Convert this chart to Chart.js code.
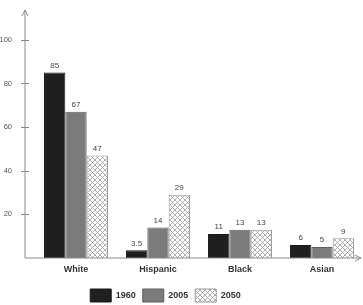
<!DOCTYPE html>
<html>
<head>
<meta charset="utf-8">
<script src="https://cdn.jsdelivr.net/npm/chart.js@4"></script>
<style>
  body { margin: 0; background: #fff; }
  #wrap { width: 363px; height: 305px; }
</style>
</head>
<body>
<div id="wrap"><canvas id="popChart"></canvas></div>
<script>
// values
var groups = ['White', 'Hispanic', 'Black', 'Asian'];
var years = ['1960', '2005', '2050'];
var share1960 = [85, 3.5, 11, 6];
var share2005 = [67, 14, 13, 5];
var share2050 = [47, 29, 13, 9];
var yTicks = [20, 40, 60, 80, 100];

var axisGray = '#8a8a8a';

// crosshatch fill for 2050
function makeHatch() {
    var c = document.createElement('canvas');
    c.width = 5; c.height = 5;
    var g = c.getContext('2d');
    g.fillStyle = '#fff';
    g.fillRect(0, 0, 5, 5);
    g.strokeStyle = '#9a9a9a';
    g.lineWidth = 0.8;
    g.beginPath();
    g.moveTo(0, 0); g.lineTo(5, 5);
    g.moveTo(5, 0); g.lineTo(0, 5);
    g.stroke();
    return g.createPattern(c, 'repeat');
}
var hatch = makeHatch();

// axis lines with open arrow heads, drawn at the value scale's zero
var arrowAxes = {
    id: 'arrowAxes',
    afterDatasetsDraw: function(chart) {
        var ctx = chart.ctx;
        var y = chart.scales.y;
        var y0 = y.getPixelForValue(0);
        var ax = chart.chartArea.left - 10;
        ctx.save();
        ctx.strokeStyle = axisGray;
        ctx.lineWidth = 1;
        ctx.beginPath();
        ctx.moveTo(ax, y0);
        ctx.lineTo(ax, 10);
        ctx.moveTo(ax - 3, 16); ctx.lineTo(ax, 10); ctx.lineTo(ax + 3, 16);
        ctx.moveTo(ax, y0);
        ctx.lineTo(360, y0);
        ctx.moveTo(355, y0 - 3); ctx.lineTo(361, y0); ctx.lineTo(355, y0 + 3);
        yTicks.forEach(function(v) {
            var py = Math.round(y.getPixelForValue(v)) + 0.5;
            ctx.moveTo(ax - 4, py); ctx.lineTo(ax + 4, py);
        });
        ctx.stroke();
        ctx.restore();
    }
};

// numbers above bars
var valueLabels = {
    id: 'valueLabels',
    afterDatasetsDraw: function(chart) {
        var ctx = chart.ctx;
        ctx.save();
        ctx.font = '8px "Liberation Sans", Arial, sans-serif';
        ctx.fillStyle = '#444';
        ctx.textAlign = 'center';
        ctx.textBaseline = 'bottom';
        chart.data.datasets.forEach(function(ds, i) {
            chart.getDatasetMeta(i).data.forEach(function(bar, j) {
                ctx.fillText(String(ds.data[j]), bar.x, bar.y - 3);
            });
        });
        ctx.restore();
    }
};

// nudge the legend to where it sits in the picture
var legendShift = {
    id: 'legendShift',
    afterLayout: function(chart) {
        var lg = chart.legend;
        lg.top += 7; lg.bottom += 7;
        lg.left -= 16; lg.right -= 16;
    }
};

var ctx = document.getElementById('popChart').getContext('2d');
var popChart = new Chart(ctx, {
    type: 'bar',
    data: {
        labels: groups,
        datasets: [
            {
                label: years[0],
                data: share1960,
                backgroundColor: '#1f1f1f',
                borderColor: '#1a1a1a',
                borderWidth: 1
            },
            {
                label: years[1],
                data: share2005,
                backgroundColor: '#7b7b7b',
                borderColor: '#5e5e5e',
                borderWidth: 1
            },
            {
                label: years[2],
                data: share2050,
                backgroundColor: hatch,
                borderColor: '#9a9a9a',
                borderWidth: 1
            }
        ]
    },
    options: {
        responsive: true,
        maintainAspectRatio: false,
        animation: false,
        layout: { padding: { top: 18, left: 0, right: 0, bottom: 0 } },
        datasets: {
            bar: { categoryPercentage: 0.78, barPercentage: 1.0 }
        },
        scales: {
            x: {
                grid: { display: false, drawTicks: false },
                border: { display: false },
                ticks: {
                    padding: 6,
                    color: '#333',
                    font: { family: '"Liberation Sans", Arial, sans-serif', size: 9, weight: 'bold' }
                },
                afterFit: function(scale) { scale.height = 17; }
            },
            y: {
                min: 0,
                max: 110,
                grid: { display: false, drawTicks: false },
                border: { display: false },
                afterBuildTicks: function(scale) {
                    scale.ticks = yTicks.map(function(v) { return { value: v }; });
                },
                ticks: {
                    padding: 23,
                    color: '#555',
                    font: { family: '"Liberation Sans", Arial, sans-serif', size: 7.5 }
                },
                afterFit: function(scale) {
                    scale.width = 35;
                    // the big label padding should not push the plot down
                    scale.paddingTop = 0;
                    scale.paddingBottom = 0;
                }
            }
        },
        plugins: {
            legend: {
                position: 'bottom',
                labels: {
                    boxWidth: 21,
                    boxHeight: 13,
                    padding: 7,
                    color: '#333',
                    font: { family: '"Liberation Sans", Arial, sans-serif', size: 9, weight: 'bold' }
                }
            },
            tooltip: { enabled: false }
        }
    },
    plugins: [arrowAxes, valueLabels, legendShift]
});
</script>
</body>
</html>
